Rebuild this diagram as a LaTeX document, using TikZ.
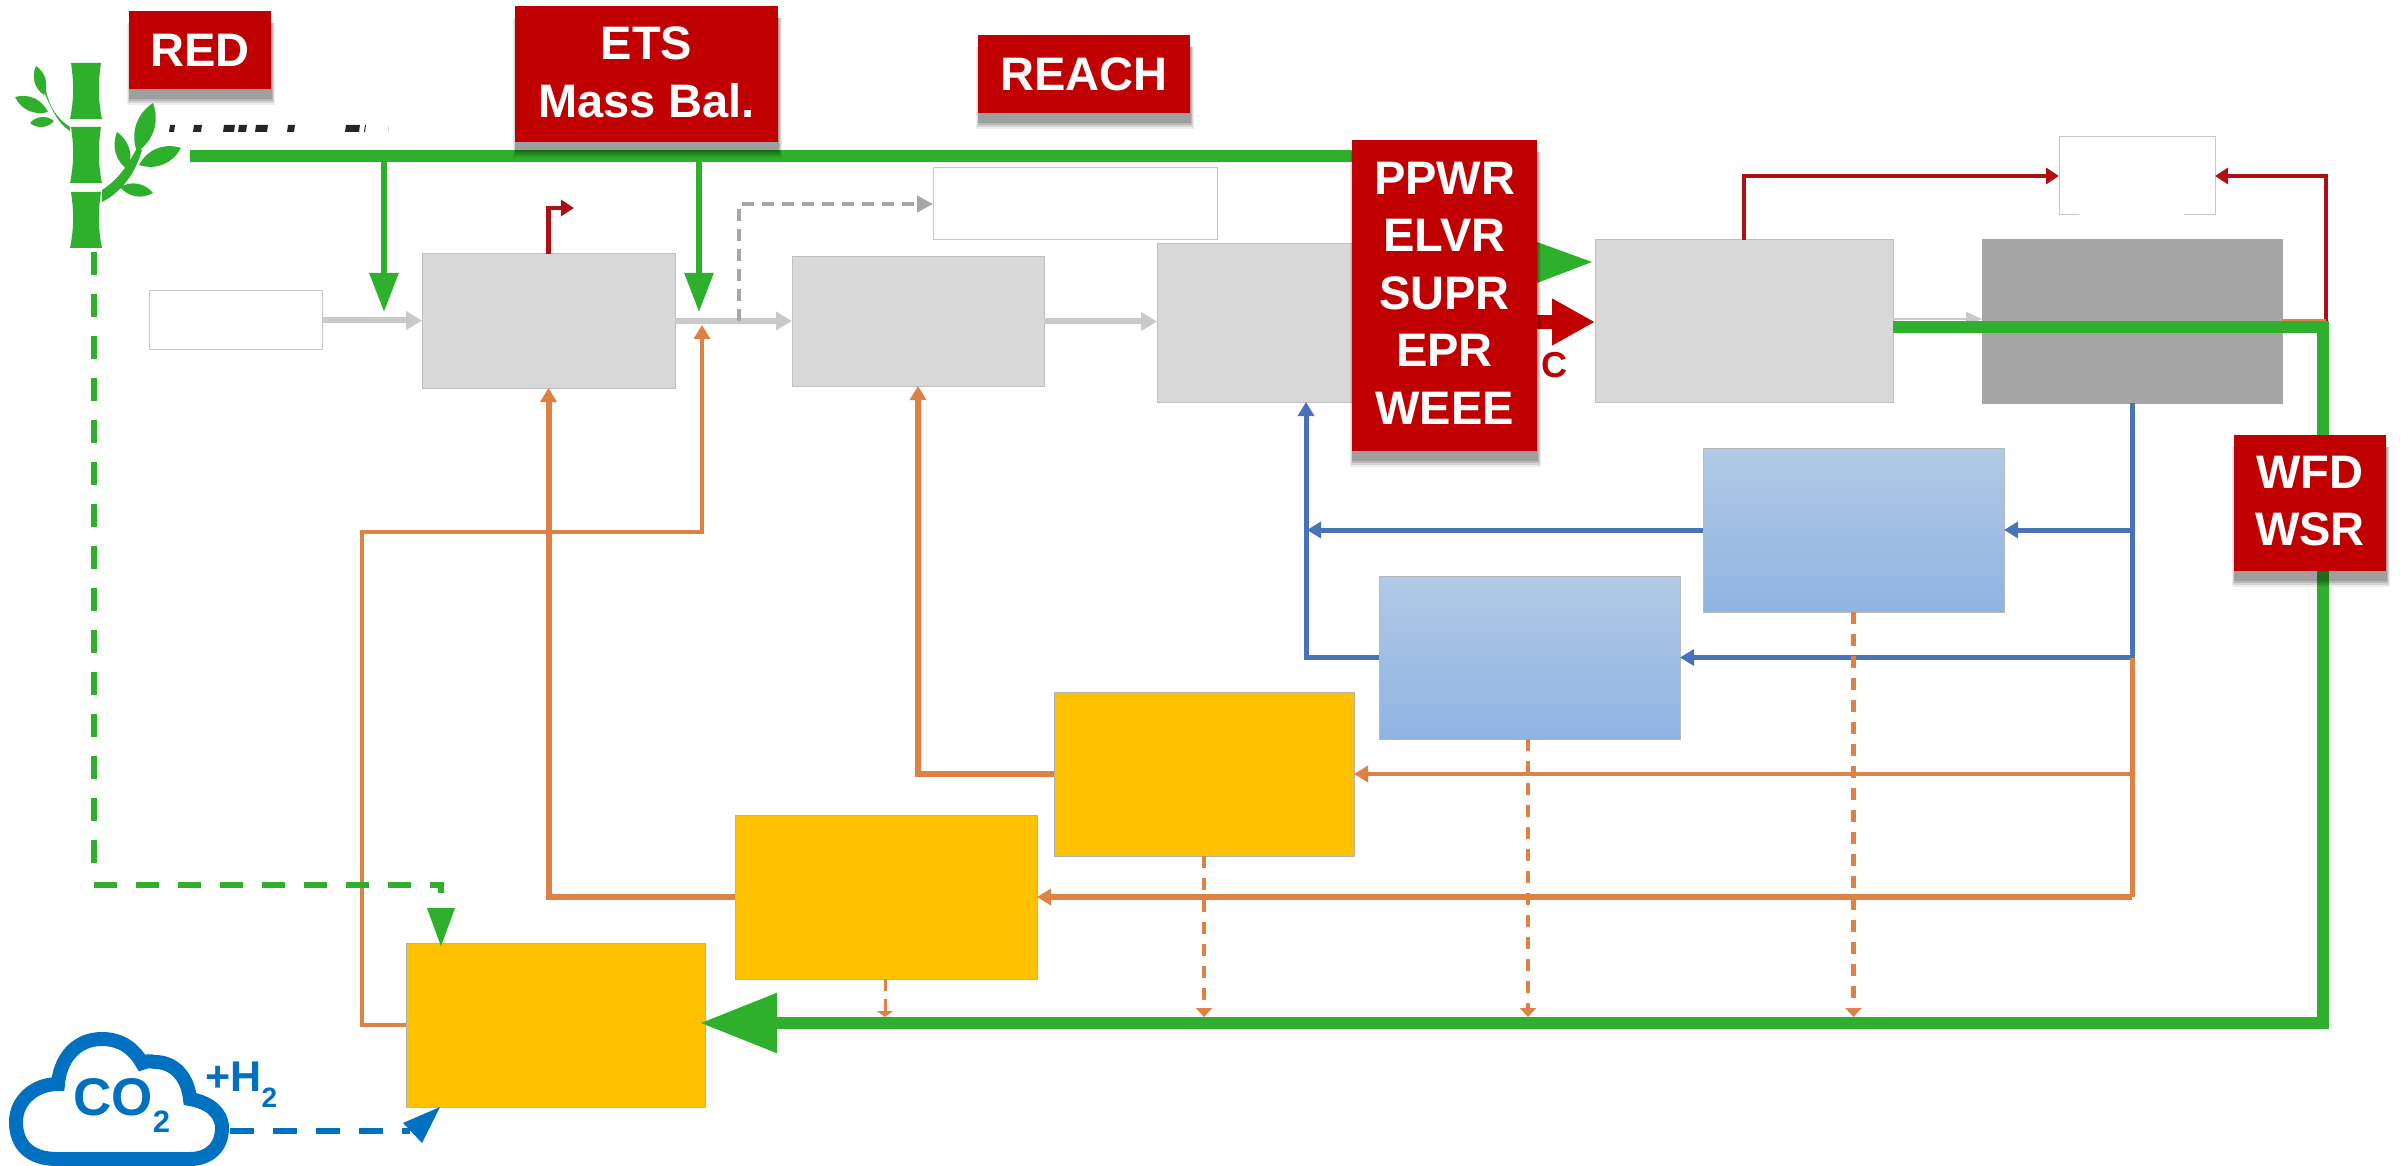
\documentclass[tikz,border=0pt]{standalone}
\usepackage{fontspec}
\setmainfont{Liberation Sans}
\usetikzlibrary{arrows.meta,calc}
\definecolor{cgreen}{HTML}{2EB02C}
\definecolor{cred}{HTML}{C00000}
\definecolor{dred}{HTML}{AE0F14}
\definecolor{cblue}{HTML}{4A72B8}
\definecolor{cblueh}{HTML}{4472C4}
\definecolor{corange}{HTML}{DD8145}
\definecolor{cgrey}{HTML}{D8D8D8}
\definecolor{dgrey}{HTML}{A6A6A6}
\definecolor{cyel}{HTML}{FFC000}
\definecolor{cloudblue}{HTML}{0070C0}
\definecolor{arrowgrey}{HTML}{C9C9C9}
\definecolor{B1}{HTML}{B1C9E6}
\definecolor{B2}{HTML}{8FB4E2}
\tikzset{
 flatbox/.style={rectangle,inner sep=0pt,outer sep=0pt,draw=#1,line width=.5pt},
 whitebox/.style={flatbox=black!22,fill=white},
 greybox/.style={flatbox=black!25,fill=cgrey},
 darkbox/.style={flatbox=dgrey,fill=dgrey},
 yelbox/.style={flatbox=black!30,fill=cyel},
 bluebox/.style={flatbox=black!28,top color=B1,bottom color=B2},
 redbox/.style={rectangle,inner sep=0pt,outer sep=0pt,fill=cred,text=white,align=center,font=\fontsize{23.5}{28.75}\selectfont\bfseries},
 redtext/.style={rectangle,inner sep=0pt,outer sep=0pt,text=white,align=center,font=\fontsize{23.5}{28.75}\selectfont\bfseries},
 greyarrow/.style={draw=arrowgrey,line width=3pt,-{Triangle[length=8pt,width=9pt]}},
 biggreen/.style={draw=cgreen,line width=3pt,-{Triangle[length=19.5pt,width=14pt]}},
 mainline/.style={draw=cgreen,line width=6pt},
 redline/.style={draw=dred,line width=2.2pt,-{Triangle[length=6.5pt,width=8pt]}},
 blueline/.style={draw=cblue,line width=2.5pt},
 bluearrow/.style={blueline,-{Triangle[length=7pt,width=8pt,fill=cblueh]}},
 orline/.style={draw=corange,line width=#1},
 orarrow/.style={draw=corange,line width=#1,-{Triangle[length=7pt,width=8pt]}},
 ordash/.style={draw=corange,line width=2.2pt,dash pattern=on 6pt off 5pt,-{Triangle[length=4.5pt,width=8pt]}},
 leaf/.style={fill=cgreen,draw=none},
}
\newcommand\bx[7]{%
 \pgfmathsetmacro\bxW{(#5-#3)*0.5}\pgfmathsetmacro\bxH{(#6-#4)*0.5}%
 \pgfmathsetmacro\bxX{(#3+#5)/2}\pgfmathsetmacro\bxY{(#4+#6)/2}%
 \node[#2,minimum width=\bxW pt,minimum height=\bxH pt] (#1) at (\bxX,\bxY) {#7};}
\newcommand\shad[4]{%
 \fill[black,opacity=.07] (#1-2,#2+12) rectangle (#3+4,#4+16);
 \fill[black,opacity=.1] (#1-1,#2+12) rectangle (#3+3,#4+14);
 \fill[black,opacity=.13] (#1,#2+12) rectangle (#3+2,#4+12);
 \fill[black,opacity=.14] (#1,#2+12) rectangle (#3+1,#4+10);}
\newcommand\seg[2]{\fill[cgreen] (71,#1) -- (101,#1) .. controls (98,#1+20) and (98,#2-20) .. (102,#2) -- (70,#2) .. controls (74,#2-20) and (74,#1+20) .. (71,#1) -- cycle;}
\newcommand\lf[4]{\path[leaf] (#1) to[bend left=#3] (#2) to[bend left=#4] (#1) -- cycle;}
\begin{document}
\begin{tikzpicture}[x=0.5pt,y=-0.5pt]
\useasboundingbox (0,0) rectangle (2405,1166);
\fill[white] (0,0) rectangle (2405,1166);
% bamboo
\seg{63}{119}\seg{127}{183}\seg{192}{248}
\fill[cgreen] (102,190) .. controls (118,180) and (128,165) .. (137,148) -- (142,150) .. controls (136,172) and (122,192) .. (102,202) -- cycle;
\fill[cgreen] (70,131) .. controls (56,122) and (50,105) .. (41,85) -- (45,85) .. controls (48,105) and (56,118) .. (70,127) -- cycle;
\lf{137,152}{153,103}{38}{38}
\lf{128,170}{117,132}{38}{38}
\lf{139,165}{181,148}{40}{40}
\lf{120,187}{153,193}{40}{40}
\lf{44,95}{36,66}{40}{40}
\lf{48,112}{15,97}{40}{40}
\lf{54,121}{30,123}{45}{45}
% clipped fragments
\foreach \a/\b in {169/175,193/202,223/235,238/247,255/268,287/295,345/360,364/366,388/389}
  \fill[black,opacity=.85] (\a+1,125) -- (\b,125) -- (\b-1,132) -- (\a,132) -- cycle;
% boxes
\bx{wb}{whitebox}{149}{291}{322}{350}{}
\bx{ga}{greybox}{422}{254}{675}{388}{}
\bx{gb}{greybox}{792}{257}{1044}{386}{}
\bx{gc}{greybox}{1157}{244}{1400}{402}{}
\bx{gd}{greybox}{1595}{240}{1893}{402}{}
\bx{ge}{darkbox}{1982}{240}{2282}{403}{}
\bx{wc}{whitebox}{933}{168}{1217}{240}{}
\bx{wd}{whitebox}{2059}{137}{2215}{215}{}
\fill[white] (2079,213) rectangle (2184,217);
\bx{ba}{bluebox}{1703}{448}{2004}{612}{}
\bx{bb}{bluebox}{1379}{576}{1680}{739}{}
\bx{oa}{yelbox}{1054}{692}{1354}{856}{}
\bx{ob}{yelbox}{735}{815}{1037}{979}{}
\bx{oc}{yelbox}{406}{943}{705}{1107}{}
% grey connectors
\draw[greyarrow] (wb.east) -- (ga.west |- wb.east);
\draw[greyarrow] (ga.east) -- (gb.west |- ga.east);
\draw[greyarrow] (gb.east) -- (gc.west |- gb.east);
\draw[draw=arrowgrey,line width=.8pt,-{Triangle[length=8pt,width=7pt]}] (gd.east |- 0,319) -- (ge.west |- 0,319);
\draw[draw=black!35,line width=2.3pt,dash pattern=on 6pt off 4pt,-{Triangle[length=8pt,width=8pt]}] (739,321) |- (wc.west);
% red
\draw[redline] (ga.north) |- (574,208);
\draw[redline] (gd.north) |- (wd.west);
\draw[redline] (2326,0 |- ge.east) |- (wd.east);
\draw[orline=2pt] (ge.east) -- (2326,0 |- ge.east);
% blue
\draw[blueline] (ge.south) -- (ge.south |- bb.east);
\draw[bluearrow] (ge.south |- ba.east) -- (ba.east);
\draw[bluearrow] (ge.south |- bb.east) -- (bb.east);
\draw[bluearrow] (ba.west) -- (1307,0 |- ba.west);
\draw[bluearrow] (bb.west) -| (1306,0 |- gc.south);
% orange
\draw[orline=2.5pt] (ge.south |- bb.east) -- (ge.south |- ob.east);
\draw[orarrow=2.2pt] (ge.south |- oa.east) -- (oa.east);
\draw[orarrow=3pt] (ge.south |- ob.east) -- (ob.east);
\draw[orarrow=3pt] (ob.west) -| (ga.south);
\draw[orarrow=3pt] (oa.west) -| (gb.south -| 918,0);
\draw[orarrow=2.2pt] (oc.west) -- (362,0 |- oc.west) -- (362,532) -- (702,532) -- (702,325);
\draw[ordash] (ba.south) -- (ba.south |- 0,1017);
\draw[ordash] (bb.south -| 1528,0) -- (1528,1017);
\draw[ordash] (oa.south) -- (oa.south |- 0,1017);
\draw[draw=corange,line width=1.5pt,dash pattern=on 6pt off 4pt,-{Triangle[length=3pt,width=8pt]}] (885,979) -- (885,1017);
% green
\draw[mainline] (190,156) -- (1352,156);
\draw[biggreen] (384,156) -- (384,312);
\draw[biggreen] (699,156) -- (699,312);
\draw[mainline] (gd.east |- 0,327) -- (2323,327) -- (2323,1023) -- (777,1023);
\draw[draw=cgreen,line width=6pt,-{Triangle[length=38.5pt,width=28.5pt]}] (790,1023) -- (700,1023);
\draw[cgreen,line width=3pt,dash pattern=on 11.5pt off 9.5pt] (94,252) -- (94,863);
\draw[cgreen,line width=3pt,dash pattern=on 11.5pt off 9.5pt] (94,885) -- (441,885) -- (441,893);
\draw[draw=cgreen,line width=.1pt,-{Triangle[length=19pt,width=14pt]}] (441,908) -- (441,946);
\fill[cgreen] (1537,242) -- (1592,262) -- (1537,283) -- cycle;
\draw[draw=cred,line width=7pt,-{Triangle[length=21.5pt,width=22pt]}] (1530,322) -- (gd.west |- 0,322);
\node[text=cred,font=\fontsize{18}{18}\selectfont\bfseries,inner sep=0pt] (cc) at (1554,365) {C};
% cloud
\draw[cloudblue,fill=white,line width=7pt] (57,1159) .. controls (30,1159) and (16,1145) .. (16,1122) .. controls (16,1100) and (35,1084) .. (58,1084) .. controls (60,1060) and (75,1039) .. (102,1039) .. controls (122,1039) and (135,1050) .. (142,1063) .. controls (147,1061) and (150,1061) .. (155,1062) .. controls (175,1062) and (188,1078) .. (190,1099) .. controls (208,1102) and (222,1112) .. (222,1128) .. controls (222,1148) and (208,1159) .. (190,1159) -- cycle;
\node[anchor=base west,inner sep=0pt,text=cloudblue,font=\fontsize{26.5}{26.5}\selectfont\bfseries] (co) at (73,1115) {CO\raisebox{-8.5pt}{\fontsize{15.5}{15.5}\selectfont 2}};
\node[anchor=base west,inner sep=0pt,text=cloudblue,font=\fontsize{21.5}{21.5}\selectfont\bfseries] (hh) at (205,1091) {+H\raisebox{-8pt}{\fontsize{14}{14}\selectfont 2}};
\coordinate (cloudr) at (230,1131);
\draw[cloudblue,line width=3pt,dash pattern=on 12pt off 9.5pt] (cloudr) -- (410,1131);
\fill[cloudblue] (440,1107) -- (403,1123) -- (422,1143) -- cycle;
% red boxes with shadows
\shad{129}{11}{271}{89}
\bx{red}{redbox}{129}{11}{271}{89}{RED}
\shad{515}{6}{778}{142}
\bx{ets}{redbox}{515}{6}{778}{142}{}
\node[redtext] (etstext) at (646.5,72.5) {ETS\\Mass Bal.};
\shad{978}{35}{1190}{113}
\bx{reach}{redbox}{978}{35}{1190}{113}{REACH}
\shad{1352}{140}{1537}{451}
\bx{ppwr}{redbox}{1352}{140}{1537}{451}{}
\node[redtext] (ppwrtext) at (1444.5,293) {PPWR\\ELVR\\SUPR\\EPR\\WEEE};
\shad{2234}{435}{2386}{571}
\bx{wfd}{redbox}{2234}{435}{2386}{571}{}
\node[redtext] (wfdtext) at (2310,501) {WFD\\WSR};
\end{tikzpicture}
\end{document}
